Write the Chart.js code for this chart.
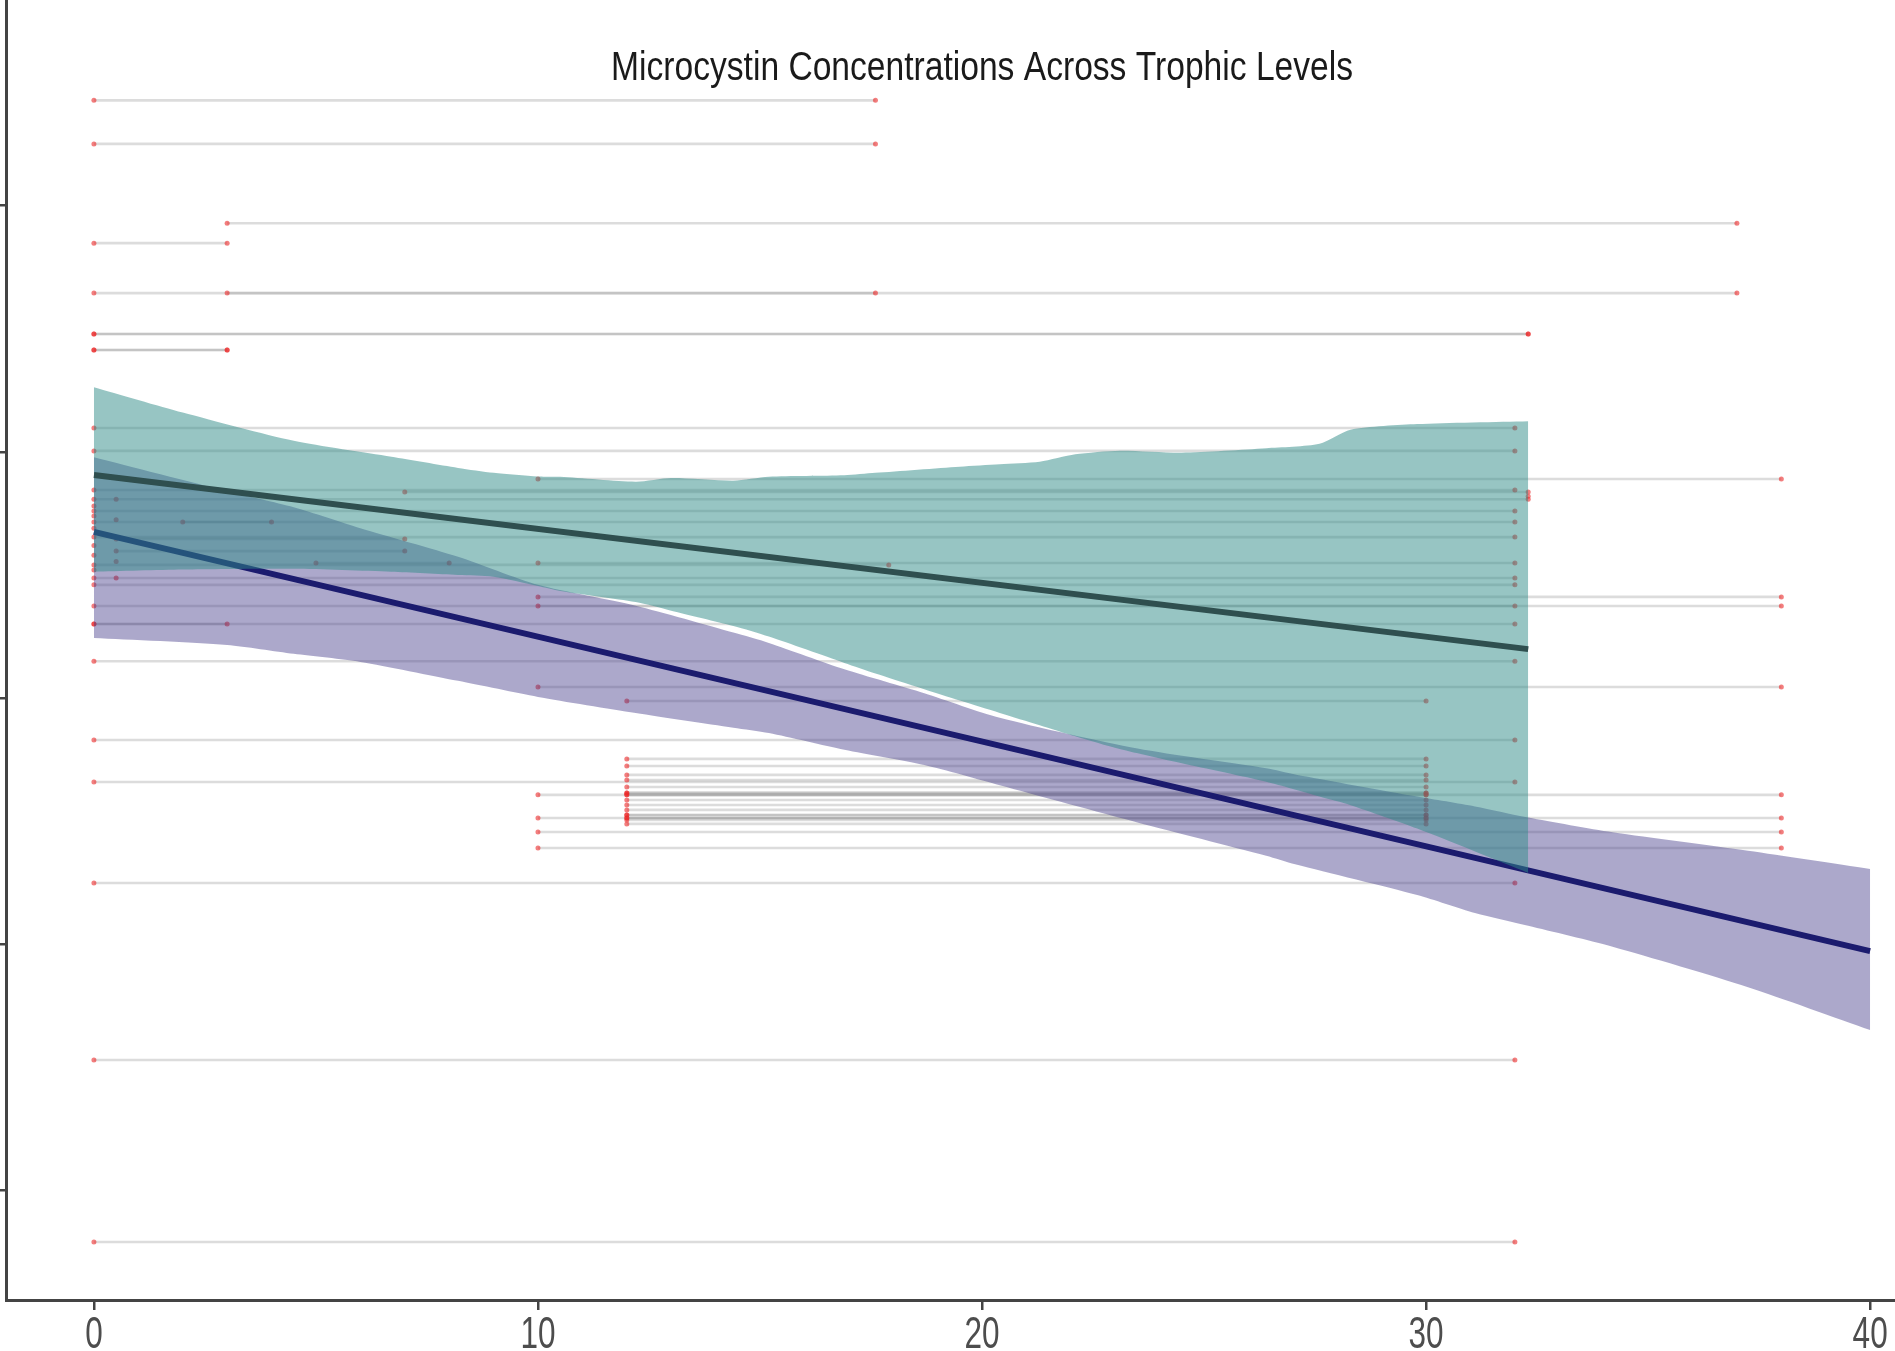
<!DOCTYPE html>
<html>
<head>
<meta charset="utf-8">
<script src="https://cdn.jsdelivr.net/npm/chart.js@4.4.1/dist/chart.umd.min.js"></script>
<style>
  html, body { margin: 0; padding: 0; background: #fff; overflow: hidden; }
  #wrap { width: 1895px; height: 1351px; position: relative; }
</style>
</head>
<body>
<div id="wrap"><canvas id="chart"></canvas></div>
<script>
// Title
const titleText = "Microcystin Concentrations Across Trophic Levels";

// x axis ticks
const xTicks = [0, 10, 20, 30, 40];

// Horizontal range segments (grey lines with red end points)
const segY  = [4.428, 4.251, 3.929, 3.848, 3.645, 3.645, 3.479, 3.479, 3.414, 3.414,
               3.097, 3.004, 2.890, 2.845, 2.837, 2.808, 2.760, 2.715, 2.715, 2.654,
               2.646, 2.597, 2.549, 2.549, 2.541, 2.488, 2.460, 2.411, 2.374, 2.374,
               2.301, 2.301, 2.150, 2.045, 1.988, 1.830, 1.753, 1.724, 1.688, 1.667,
               1.659, 1.639, 1.615, 1.607, 1.586, 1.566, 1.546, 1.525, 1.513, 1.505,
               1.489, 1.456, 1.391, 1.249, 0.530, -0.209,
               1.607, 1.607, 1.513, 1.513, 1.615, 1.525];
const segX0 = [0, 0, 3, 0, 0, 3, 0, 0, 0, 0,
               0, 0, 10, 0, 7, 0, 0, 0, 2, 0,
               0.5, 0.5, 10, 5, 0, 0, 0, 10, 10, 0,
               0, 0, 0, 10, 12, 0, 12, 12, 12, 12,
               0, 12, 12, 10, 12, 12, 12, 12, 10, 12,
               12, 10, 10, 0, 0, 0,
               12, 12, 12, 12, 12, 12];
const segX1 = [17.6, 17.6, 37, 3, 37, 17.6, 32.3, 32.3, 3, 3,
               32, 32, 38, 32, 32.3, 32.3, 32, 32, 4, 32,
               7, 7, 32, 8, 17.9, 32, 32, 38, 38, 32,
               32, 3, 32, 38, 30, 32, 30, 30, 30, 30,
               32, 30, 30, 38, 30, 30, 30, 30, 38, 30,
               30, 38, 38, 32, 32, 32,
               30, 30, 30, 30, 30, 30];

// Extra isolated observations
const extraX = [0.5, 0.5, 0.5, 0, 0, 0, 0, 0, 0, 32.3, 0.5];
const extraY = [2.808, 2.724, 2.488, 2.780, 2.740, 2.690, 2.620, 2.580, 2.520, 2.820, 2.555];

// Teal group: fitted line and confidence band
const tealLineX = [0, 32.3];
const tealLineY = [2.906, 2.199];
const tealBandX = [0, 2, 4.5, 6.7, 8.2, 9, 10, 10.5, 12.2, 13, 14.4, 15.2, 16.9, 17.6,
                   19.5, 20.4, 21.3, 22.1, 23.1, 24.5, 26.4, 27.6, 28.3, 29.8, 32.3];
const tealUpper = [3.263, 3.16, 3.045, 2.98, 2.935, 2.915, 2.90, 2.899, 2.879, 2.894, 2.883, 2.899,
                   2.905, 2.915, 2.94, 2.95, 2.96, 2.99, 3.005, 2.997, 3.015, 3.033, 3.09, 3.113, 3.125];
const tealLower = [2.513, 2.522, 2.525, 2.513, 2.50, 2.493, 2.455, 2.435, 2.39, 2.355, 2.293, 2.25,
                   2.143, 2.10, 1.99, 1.94, 1.89, 1.845, 1.793, 1.735, 1.66, 1.60, 1.565, 1.47, 1.29];

// Purple group: fitted line and confidence band
const navyLineX = [0, 40];
const navyLineY = [2.675, 0.972];
const purpleBandX = [0, 3, 4.5, 6, 8.2, 10, 12.2, 14.4, 15.2, 16.9, 18.7, 20.4, 23.5, 26.4,
                     27.05, 29.8, 31.1, 32.3, 34.2, 37.25, 40];
const purpleUpper = [2.978, 2.84, 2.775, 2.69, 2.574, 2.46, 2.375, 2.266, 2.224, 2.117, 2.02,
                     1.92, 1.795, 1.715, 1.69, 1.60, 1.56, 1.515, 1.455, 1.38, 1.306];
const purpleLower = [2.244, 2.216, 2.18, 2.147, 2.07, 2.005, 1.94, 1.88, 1.858, 1.79, 1.728,
                     1.646, 1.495, 1.36, 1.325, 1.20, 1.127, 1.075, 0.99, 0.826, 0.652];

const zip = (xs, ys) => xs.map((x, i) => ({ x: x, y: ys[i] }));

// segment datasets (one per segment so overlaps darken)
const segmentSets = segY.map((y, i) => ({
  type: 'line',
  data: [{ x: segX0[i], y: y }, { x: segX1[i], y: y }],
  borderColor: 'rgba(140,140,140,0.3)',
  borderWidth: 2.6,
  pointRadius: 0,
  fill: false,
  order: 60
}));

const endPoints = [];
segY.forEach((y, i) => {
  endPoints.push({ x: segX0[i], y: y });
  endPoints.push({ x: segX1[i], y: y });
});
extraX.forEach((x, i) => endPoints.push({ x: x, y: extraY[i] }));

const bandLine = { pointRadius: 0, borderWidth: 0, tension: 0.25 };

const datasets = [
  // purple band (upper fills to lower)
  Object.assign({ type: 'line', data: zip(purpleBandX, purpleUpper), fill: '+1',
    backgroundColor: 'rgba(72,61,139,0.45)', borderColor: 'rgba(0,0,0,0)', order: 40 }, bandLine),
  Object.assign({ type: 'line', data: zip(purpleBandX, purpleLower), fill: false,
    borderColor: 'rgba(0,0,0,0)', order: 40 }, bandLine),
  // navy fitted line
  { type: 'line', data: zip(navyLineX, navyLineY), borderColor: '#1b1b6e', borderWidth: 6,
    pointRadius: 0, fill: false, order: 30 },
  // teal band
  Object.assign({ type: 'line', data: zip(tealBandX, tealUpper), fill: '+1',
    backgroundColor: 'rgba(47,139,135,0.5)', borderColor: 'rgba(0,0,0,0)', order: 20 }, bandLine),
  Object.assign({ type: 'line', data: zip(tealBandX, tealLower), fill: false,
    borderColor: 'rgba(0,0,0,0)', order: 20 }, bandLine),
  // dark slate fitted line
  { type: 'line', data: zip(tealLineX, tealLineY), borderColor: '#2f4f4f', borderWidth: 6,
    pointRadius: 0, fill: false, order: 10 },
  // red end points
  { type: 'scatter', data: endPoints, pointRadius: 2.5, pointBorderWidth: 0,
    backgroundColor: 'rgba(235,40,40,0.6)', order: 50 }
].concat(segmentSets);

// condensed text helper (original figure uses a narrow face)
function condensedText(ctx, text, x, y, squeeze) {
  ctx.save();
  ctx.translate(x, y);
  ctx.scale(squeeze, 1);
  ctx.fillText(text, 0, 0);
  ctx.restore();
}

// title drawn inside the panel, x tick labels drawn narrow
const textPlugin = {
  id: 'plotText',
  afterDraw(chart) {
    const ctx = chart.ctx;
    const xs = chart.scales.x;
    ctx.save();
    ctx.textAlign = 'center';
    ctx.textBaseline = 'alphabetic';
    ctx.font = '40px "Liberation Sans", Arial, sans-serif';
    ctx.fillStyle = '#1a1a1a';
    condensedText(ctx, titleText, xs.getPixelForValue(20), 80, 0.84);
    ctx.font = '45px "Liberation Sans", Arial, sans-serif';
    ctx.fillStyle = '#4d4d4d';
    xs.ticks.forEach(t => {
      condensedText(ctx, String(t.value), xs.getPixelForValue(t.value), 1348, 0.7);
    });
    ctx.restore();
  }
};

new Chart(document.getElementById('chart'), {
  type: 'line',
  data: { datasets: datasets },
  options: {
    responsive: true,
    maintainAspectRatio: false,
    animation: false,
    layout: { padding: 0, autoPadding: false },
    plugins: { legend: { display: false }, tooltip: { enabled: false }, title: { display: false } },
    scales: {
      x: {
        type: 'linear',
        min: -1.98,
        max: 40.56,
        afterFit: s => { s.height = 51; },
        afterBuildTicks: s => { s.ticks = xTicks.map(v => ({ value: v })); },
        border: { display: true, color: '#444', width: 3 },
        grid: { drawOnChartArea: false, drawTicks: true, tickLength: 10, color: '#444', lineWidth: 2.5 },
        ticks: { display: false }
      },
      y: {
        type: 'linear',
        min: -0.4447,
        max: 4.8355,
        afterFit: s => { s.width = 6; },
        border: { display: true, color: '#444', width: 3 },
        grid: { drawOnChartArea: false, drawTicks: true, tickLength: 6, color: '#444', lineWidth: 2.5 },
        ticks: { display: false, stepSize: 1, includeBounds: false }
      }
    }
  },
  plugins: [textPlugin]
});
</script>
</body>
</html>
